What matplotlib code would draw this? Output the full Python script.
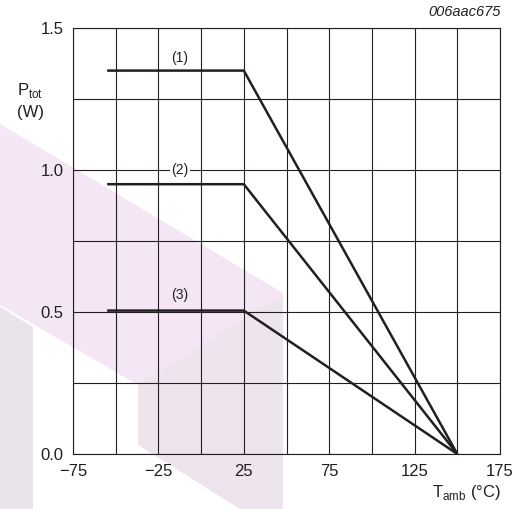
import matplotlib.pyplot as plt
from matplotlib.patches import Polygon

plt.rcParams['font.family'] = ['Liberation Sans', 'DejaVu Sans']
plt.rcParams['mathtext.fontset'] = 'custom'
plt.rcParams['mathtext.rm'] = 'Liberation Sans'

# derating curves
temp = [-55, 25, 150]
ptot_1 = [1.35, 1.35, 0.0]
ptot_2 = [0.95, 0.95, 0.0]
ptot_3 = [0.505, 0.505, 0.0]
curve_labels = ['(1)', '(2)', '(3)']
label_x = [-12.5, -12.5, -12.5]
label_y = [1.395, 1.0, 0.56]

x_ticks = [-75, -25, 25, 75, 125, 175]
y_ticks = [0.0, 0.5, 1.0, 1.5]

W, H = 523, 509
fig = plt.figure(figsize=(W / 100, H / 100), dpi=100)

# background watermark (pixel coords, y down)
def px(pts):
    return [(x / W, 1 - y / H) for x, y in pts]

wm = [
    ([(0, 124), (283, 293), (138, 385), (0, 305)], '#f4e6f4'),
    ([(138, 385), (283, 293), (283, 509), (240, 509), (138, 445)], '#ede4ee'),
    ([(0, 307), (33, 327), (33, 509), (0, 509)], '#e8e4ea'),
]
for pts, c in wm:
    fig.patches.append(Polygon(px(pts), closed=True, transform=fig.transFigure,
                               facecolor=c, edgecolor='none', zorder=-5))

ax = fig.add_axes([73 / W, 1 - 454 / H, 427 / W, 426 / H])
ax.set_zorder(1)
ax.set_facecolor('none')

ax.set_xlim(-75, 175)
ax.set_ylim(0, 1.5)
ax.set_xticks(range(-75, 176, 25))
ax.set_yticks([i * 0.25 for i in range(7)])
ax.set_xticklabels([f"{t}".replace('-', '\u2212') if t in x_ticks else '' for t in range(-75, 176, 25)])
ax.set_yticklabels([f"{v:.1f}" if v in y_ticks else '' for v in [i * 0.25 for i in range(7)]])
ax.tick_params(length=0, labelsize=12, colors='#231f20', pad=7)
ax.grid(True, color='#231f20', linewidth=0.8)
for s in ax.spines.values():
    s.set_color('#231f20')
    s.set_linewidth(0.8)

for y in (ptot_1, ptot_2, ptot_3):
    ax.plot(temp, y, color='#231f20', linewidth=1.8, solid_capstyle='butt', zorder=3)

for lab, lx, ly in zip(curve_labels, label_x, label_y):
    ax.text(lx, ly, lab, ha='center', va='center', fontsize=10, color='#231f20',
            zorder=4, bbox=dict(facecolor='white', edgecolor='none', pad=1.0) if lab == '(2)' else None)

fig.text(17 / W, 1 - 91 / H, r'P$_{\mathrm{tot}}$', fontsize=12, color='#231f20', va='center', ha='left')
fig.text(17 / W, 1 - 112 / H, '(W)', fontsize=12, color='#231f20', va='center', ha='left')
fig.text(501 / W, 1 - 492 / H, r'T$_{\mathrm{amb}}$ (°C)', fontsize=12, color='#231f20', va='center', ha='right')
fig.text(501 / W, 1 - 12 / H, '006aac675', fontsize=10.5, style='italic', color='#231f20', va='center', ha='right')

fig.savefig('out.png', dpi=100)
